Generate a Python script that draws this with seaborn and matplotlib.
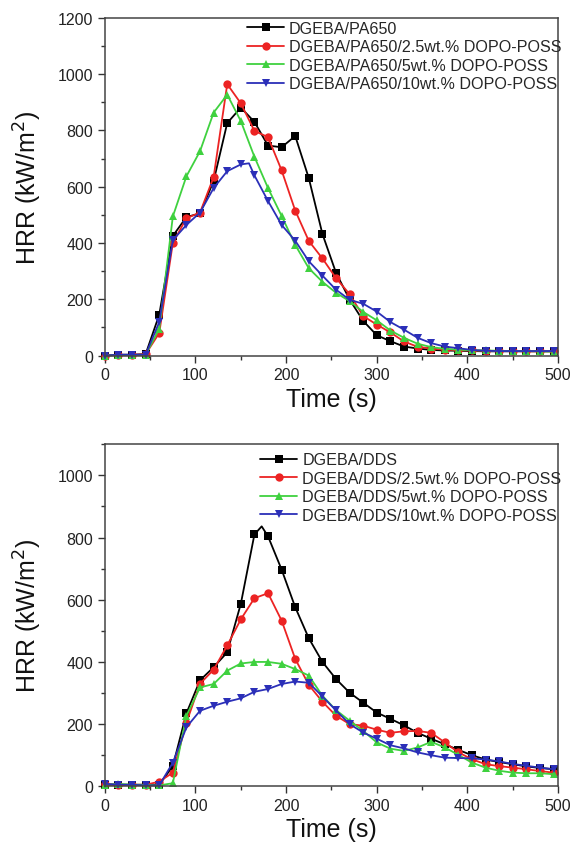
import numpy as np
import pandas as pd
import matplotlib
matplotlib.use("Agg")
import matplotlib.pyplot as plt
from matplotlib.ticker import MultipleLocator
import seaborn as sns

# ---- top panel: DGEBA/PA650 series (time in s, HRR in kW/m2) ----
t_pa = [0, 15, 30, 45, 60, 75, 90, 105, 120, 135, 150, 165, 180, 195, 210, 225, 240,
        255, 270, 285, 300, 315, 330, 345, 360, 375, 390, 405, 420, 435, 450, 465, 480, 495]
pa_neat = [0, 3, 3, 5, 145, 425, 492, 505, 620, 826, 881, 830, 746, 740, 780, 630, 432,
           294, 199, 123, 72, 51, 32, 25, 20, 18, 17, 16, 15, 15, 15, 15, 15, 15]
pa_25 = [0, 2, 2, 5, 80, 400, 488, 508, 634, 964, 896, 798, 776, 658, 515, 407, 345,
         275, 218, 140, 110, 82, 50, 31, 25, 21, 19, 18, 17, 16, 16, 15, 15, 15]
pa_5 = [0, 2, 2, 3, 95, 494, 637, 726, 863, 927, 833, 706, 595, 496, 393, 310, 262,
        223, 193, 155, 125, 89, 63, 42, 30, 24, 21, 19, 18, 17, 16, 16, 15, 14]
t_pa10 = [0, 15, 30, 45, 60, 75, 90, 105, 120, 135, 150, 159, 165, 180, 195, 210, 225, 240,
          255, 270, 285, 300, 315, 330, 345, 360, 375, 390, 405, 420, 435, 450, 465, 480, 495]
pa_10 = [0, 3, 3, 3, 119, 410, 464, 508, 595, 655, 679, 683, 640, 549, 464, 408, 335, 284,
         234, 198, 184, 156, 119, 92, 63, 44, 32, 26, 20, 17, 16, 16, 16, 16, 16]

# ---- bottom panel: DGEBA/DDS series ----
t_dds = [0, 15, 30, 45, 60, 75, 90, 105, 120, 135, 150, 165, 180, 195, 210, 225, 240,
         255, 270, 285, 300, 315, 330, 345, 360, 375, 390, 405, 420, 435, 450, 465, 480, 495]
t_dds_neat = [0, 15, 30, 45, 60, 75, 90, 105, 120, 135, 150, 165, 173, 180, 195, 210, 225, 240,
              255, 270, 285, 300, 315, 330, 345, 360, 375, 390, 405, 420, 435, 450, 465, 480, 495]
dds_neat = [5, 5, 5, 5, 5, 65, 235, 341, 383, 431, 587, 810, 836, 804, 697, 576, 476, 400,
            345, 301, 269, 237, 217, 196, 172, 153, 135, 117, 100, 86, 78, 71, 64, 59, 55]
dds_25 = [8, 5, 5, 5, 15, 44, 205, 330, 375, 453, 537, 605, 621, 533, 410, 326, 272,
          227, 200, 195, 182, 172, 177, 178, 172, 141, 109, 87, 71, 65, 60, 55, 49, 44]
dds_5 = [5, 8, 5, 5, 3, 10, 227, 318, 329, 372, 395, 400, 400, 394, 377, 356, 291,
         245, 211, 178, 141, 121, 114, 125, 143, 125, 101, 76, 60, 50, 44, 42, 42, 39]
dds_10 = [8, 5, 5, 3, 3, 76, 190, 243, 259, 272, 283, 304, 313, 329, 337, 333, 289,
          244, 200, 173, 153, 132, 122, 109, 100, 92, 91, 90, 86, 80, 72, 66, 60, 55]

labels_pa = ["DGEBA/PA650", "DGEBA/PA650/2.5wt.% DOPO-POSS",
             "DGEBA/PA650/5wt.% DOPO-POSS", "DGEBA/PA650/10wt.% DOPO-POSS"]
labels_dds = ["DGEBA/DDS", "DGEBA/DDS/2.5wt.% DOPO-POSS",
              "DGEBA/DDS/5wt.% DOPO-POSS", "DGEBA/DDS/10wt.% DOPO-POSS"]

colors = ["#000000", "#ec2323", "#3fd13f", "#2b2fb8"]
marks = ["s", "o", "^", "v"]

sns.set_style("ticks")
plt.rcParams["font.family"] = ["Liberation Sans", "DejaVu Sans"]

fig = plt.figure(figsize=(5.76, 8.53), dpi=100)
ax1 = fig.add_axes([0.182, 0.582, 0.787, 0.396])
ax2 = fig.add_axes([0.182, 0.077, 0.787, 0.401])


def draw(ax, series, labels, ymax, leg_y):
    for (t, y), lab, c, m in zip(series, labels, colors, marks):
        df = pd.DataFrame({"t": t, "hrr": y})
        every = [i for i, v in enumerate(t) if v % 15 == 0]
        sns.lineplot(data=df, x="t", y="hrr", ax=ax, color=c, marker=m, markersize=6,
                     markeredgewidth=0, linewidth=1.3, label=lab, markevery=every,
                     clip_on=False)
    ax.set_xlim(0, 500)
    ax.set_ylim(0, ymax)
    ax.xaxis.set_major_locator(MultipleLocator(100))
    ax.xaxis.set_minor_locator(MultipleLocator(50))
    ax.yaxis.set_major_locator(MultipleLocator(200))
    ax.yaxis.set_minor_locator(MultipleLocator(100))
    ax.tick_params(which="major", direction="out", length=5, width=1, labelsize=11.5,
                   colors="#333333", labelcolor="#222222")
    ax.tick_params(which="minor", direction="out", length=3, width=1, colors="#333333")
    for s in ax.spines.values():
        s.set_visible(True)
        s.set_linewidth(1.1)
        s.set_color("#444444")
    ax.set_xlabel("Time (s)", fontsize=18, color="#111111", labelpad=3)
    ax.set_ylabel("HRR (kW/m$^2$)", fontsize=18, color="#111111")
    ax.legend(loc="upper right", frameon=False, fontsize=11.6, handlelength=2.3,
              handletextpad=0.3, labelspacing=0.22, borderaxespad=0.1,
              bbox_to_anchor=(1.025, leg_y))


draw(ax1, [(t_pa, pa_neat), (t_pa, pa_25), (t_pa, pa_5), (t_pa10, pa_10)], labels_pa,
     1200, 1.015)
draw(ax2, [(t_dds_neat, dds_neat), (t_dds, dds_25), (t_dds, dds_5), (t_dds, dds_10)],
     labels_dds, 1100, 1.0)

ax1.yaxis.set_label_coords(-0.135, 0.5)
ax2.yaxis.set_label_coords(-0.135, 0.5)

fig.savefig("out.png", dpi=100)
